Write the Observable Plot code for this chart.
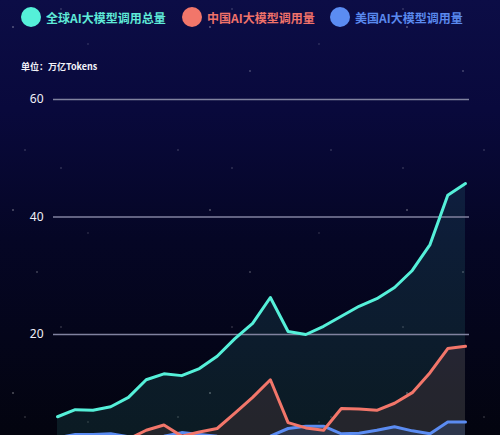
<!DOCTYPE html>
<html><head><meta charset="utf-8">
<script src="https://cdn.jsdelivr.net/npm/d3@7"></script>
<script src="https://cdn.jsdelivr.net/npm/@observablehq/plot@0.6"></script>
<style>
html,body{margin:0;padding:0;width:500px;height:435px;overflow:hidden;}
body{
  position:relative;
  font-family:"Noto Sans CJK SC","Noto Sans",sans-serif;
  background-color:#05061a;
  background-image:
    radial-gradient(circle at 13px 27px, rgba(255,255,255,.35) 0.5px, transparent 1.1px),
    radial-gradient(circle at 61px 9px, rgba(255,255,255,.25) 0.4px, transparent 1px),
    radial-gradient(circle at 37px 71px, rgba(255,255,255,.3) 0.5px, transparent 1px),
    radial-gradient(circle at 88px 44px, rgba(255,255,255,.2) 0.4px, transparent 1px),
    radial-gradient(circle at 25px 150px, rgba(255,255,255,.25) 0.4px, transparent 1px),
    linear-gradient(180deg,#0c0d46 0%,#09093c 25%,#050625 55%,#03040f 100%);
  background-size:197px 183px,171px 159px,213px 201px,231px 189px,153px 267px,100% 100%;
}
.item{position:absolute;top:7px;height:20px;display:flex;align-items:center;font-weight:700;font-size:12px;white-space:nowrap;}
.dot{width:20px;height:20px;border-radius:50%;margin-right:5px;flex:none;}
#unit{position:absolute;left:21px;top:60px;font-size:9px;font-weight:700;color:#f2f2f8;}
#chart{position:absolute;left:0;top:80px;}
</style></head>
<body>
<div id="legend"></div>
<div id="unit">单位：万亿Tokens</div>
<div id="chart"></div>
<script>
const seriesNames = ["全球AI大模型调用总量","中国AI大模型调用量","美国AI大模型调用量"];
const lineColors = ["#55f0d9","#f2766a","#5b8cf2"];
const textColors = ["#5fead8","#f0726a","#5a89ee"];
const globalVals = [6.0, 7.2, 7.1, 7.7, 9.3, 12.3, 13.3, 13.0, 14.2, 16.3, 19.3, 21.9, 26.3, 20.5, 20.0, 21.4, 23.1, 24.8, 26.1, 28.0, 30.9, 35.3, 43.7, 45.7];
const chinaVals  = [0.8, 1.0, 1.2, 1.0, 2.2, 3.7, 4.6, 2.7, 3.4, 4.0, 6.6, 9.3, 12.3, 5.0, 4.1, 3.7, 7.4, 7.3, 7.1, 8.3, 10.1, 13.5, 17.6, 18.0];
const usVals     = [2.4, 3.0, 3.0, 3.1, 2.6, 2.5, 2.7, 3.3, 3.0, 2.7, 2.5, 2.5, 2.7, 4.0, 4.4, 4.4, 3.1, 3.2, 3.7, 4.3, 3.6, 3.1, 5.1, 5.1];
const yTicks = [20, 40, 60];

const legend = document.getElementById("legend");
const legendLeft = [21, 182, 330];
seriesNames.forEach((name, k) => {
  const d = document.createElement("div");
  d.className = "item";
  d.style.left = legendLeft[k] + "px";
  d.style.color = textColors[k];
  d.innerHTML = `<span class="dot" style="background:${lineColors[k]}"></span><span>${name}</span>`;
  legend.appendChild(d);
});

const toRows = vals => vals.map((v, i) => ({i, v}));
const sets = [globalVals, chinaVals, usVals].map(toRows);
const areaOpacity = [0.1, 0.11, 0.16];

const plot = Plot.plot({
  width: 500, height: 400,
  marginLeft: 57, marginRight: 35, marginTop: 19, marginBottom: 28.5,
  style: {background: "transparent", overflow: "visible"},
  x: {domain: [0, globalVals.length - 1], axis: null},
  y: {domain: [0, 60], axis: null},
  marks: [
    ...sets.map((s, k) => Plot.areaY(s, {x: "i", y: "v", fill: lineColors[k], fillOpacity: areaOpacity[k]})),
    Plot.ruleY(yTicks, {stroke: "#80829f", strokeWidth: 1.4, insetLeft: -4, insetRight: -4}),
    Plot.axisY({ticks: yTicks, tickSize: 0, tickPadding: 14, fontSize: 12, fill: "#f0f0f8", fontFamily: "Noto Sans", label: null}),
    ...sets.slice().reverse().map((s, kk) => {
      const k = 2 - kk;
      return Plot.lineY(s, {x: "i", y: "v", stroke: lineColors[k], strokeWidth: 3, strokeLinejoin: "round"});
    })
  ]
});
document.getElementById("chart").appendChild(plot);
</script>
</body></html>
